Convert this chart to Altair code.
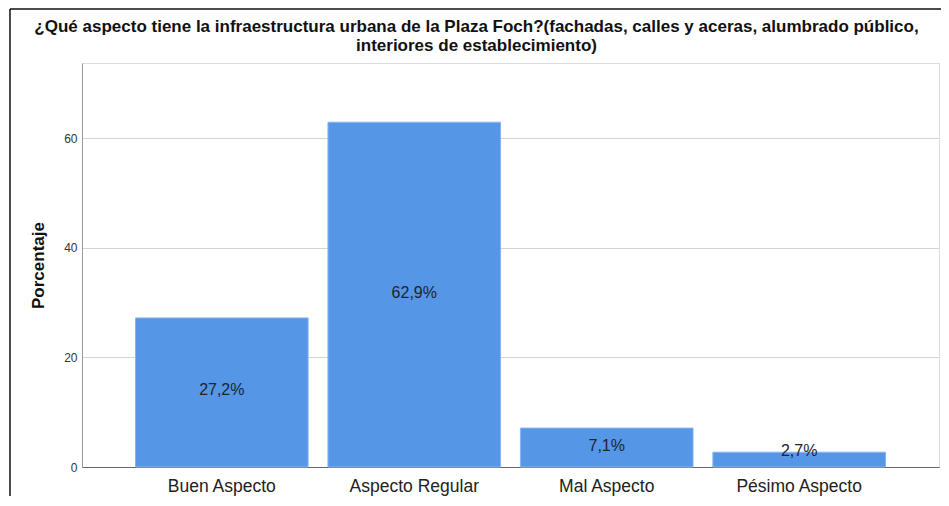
import altair as alt
import pandas as pd

categories = ["Buen Aspecto", "Aspecto Regular", "Mal Aspecto", "Pésimo Aspecto"]
values = [27.2, 62.9, 7.1, 2.7]
labels = ["27,2%", "62,9%", "7,1%", "2,7%"]
y_ticks = [0, 20, 40, 60]

title_lines = [
    "¿Qué aspecto tiene la infraestructura urbana de la Plaza Foch?(fachadas, calles y aceras, alumbrado público,",
    "interiores de establecimiento)",
]

df = pd.DataFrame({"cat": categories, "val": values, "lab": labels})

FONT = "Liberation Sans"

x_enc = alt.X(
    "cat:N",
    sort=categories,
    title=None,
    scale=alt.Scale(paddingInner=0.103, paddingOuter=0.278),
    axis=alt.Axis(
        labelAngle=0, labelFontSize=17.5, labelColor="#222222", labelFont=FONT,
        labelPadding=10, ticks=False, domainColor="#666666", domainWidth=1, grid=False,
    ),
)
y_enc = alt.Y(
    "val:Q",
    title="Porcentaje",
    scale=alt.Scale(domain=[0, 73.7], nice=False),
    axis=alt.Axis(
        values=y_ticks, labelFontSize=12, labelColor="#333333", labelFont=FONT,
        labelPadding=5, ticks=False, domainColor="#999999",
        gridColor="#d4d4d4", gridWidth=1.2,
        titleFontSize=17, titleFont=FONT, titleFontWeight="bold", titleColor="#111111",
        titlePadding=16,
    ),
)

bars = alt.Chart(df).mark_bar(color="#5596e6", stroke="#8ab6ee", strokeWidth=1).encode(
    x=x_enc, y=y_enc
)

text = alt.Chart(df).transform_calculate(
    ly="max(datum.val / 2, 2.5)"
).mark_text(
    font=FONT, fontSize=16, color="#1e2430", baseline="middle", align="center", dy=-2
).encode(
    x=alt.X("cat:N", sort=categories),
    y=alt.Y("ly:Q"),
    text="lab:N",
)

frame_data = alt.Data(values=[{"k": 1}])
frame_left = alt.Chart(frame_data).mark_rule(color="#111111", strokeWidth=1.5).encode(
    x=alt.value(-72), y=alt.value(-54), y2=alt.value(440)
)
frame_top = alt.Chart(frame_data).mark_rule(color="#111111", strokeWidth=1.5).encode(
    x=alt.value(-72), x2=alt.value(870), y=alt.value(-54)
)

chart = alt.layer(bars, text, frame_left, frame_top).properties(
    width=857,
    height=404,
    autosize=alt.AutoSizeParams(type="none"),
    padding={"left": 74, "top": 55, "right": 2, "bottom": 29},
    title=alt.TitleParams(
        text=title_lines, fontSize=17, font=FONT, fontWeight="bold", color="#111111",
        anchor="middle", dx=-34, offset=-47, lineHeight=19,
    ),
).configure_view(strokeOpacity=0).configure(background="white")

chart.save("out.html", embed_options={"renderer": "svg", "actions": False})
